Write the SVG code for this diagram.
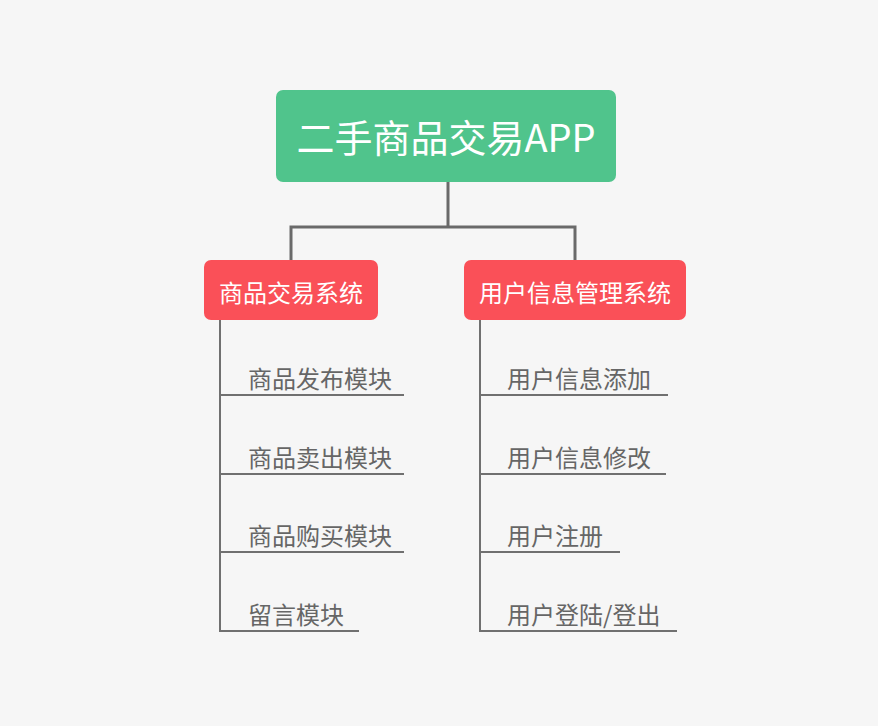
<svg xmlns="http://www.w3.org/2000/svg" width="878" height="726" viewBox="0 0 878 726">
<style>
.t{font-family:"Noto Sans CJK SC","Noto Sans",sans-serif}
.w{fill:#ffffff}
.i{fill:#666666;font-size:24px}
.c{fill:none;stroke:#6a6a6a;stroke-width:3}
.b{fill:none;stroke:#707070;stroke-width:2}
</style>
<rect width="878" height="726" fill="#f6f6f6"/>
<g id="connectors">
<path class="c" d="M448 182V227M291 261V227H575V261"/>
<path class="b" d="M220 320V632M220 395H404M220 474H404M220 552H404M220 631H359"/>
<path class="b" d="M480 320V632M480 395H668M480 474H666M480 552H620M480 631H677"/>
</g>
<g id="root">
<rect x="276" y="90" width="340" height="92" rx="7" fill="#50c48c"/>
<text class="t w" x="446" y="152" font-size="38" text-anchor="middle">二手商品交易APP</text>
</g>
<g id="trade">
<rect x="204" y="260" width="174" height="60" rx="7" fill="#fa5058"/>
<text class="t w" x="291" y="302" font-size="24" text-anchor="middle">商品交易系统</text>
</g>
<g id="user">
<rect x="464" y="260" width="222" height="60" rx="7" fill="#fa5058"/>
<text class="t w" x="575" y="302" font-size="24" text-anchor="middle">用户信息管理系统</text>
</g>
<g id="t1"><text class="t i" x="248" y="388">商品发布模块</text></g>
<g id="t2"><text class="t i" x="248" y="467">商品卖出模块</text></g>
<g id="t3"><text class="t i" x="248" y="545">商品购买模块</text></g>
<g id="t4"><text class="t i" x="248" y="624">留言模块</text></g>
<g id="u1"><text class="t i" x="507" y="388">用户信息添加</text></g>
<g id="u2"><text class="t i" x="507" y="467">用户信息修改</text></g>
<g id="u3"><text class="t i" x="507" y="545">用户注册</text></g>
<g id="u4"><text class="t i" x="507" y="624">用户登陆/登出</text></g>
</svg>
